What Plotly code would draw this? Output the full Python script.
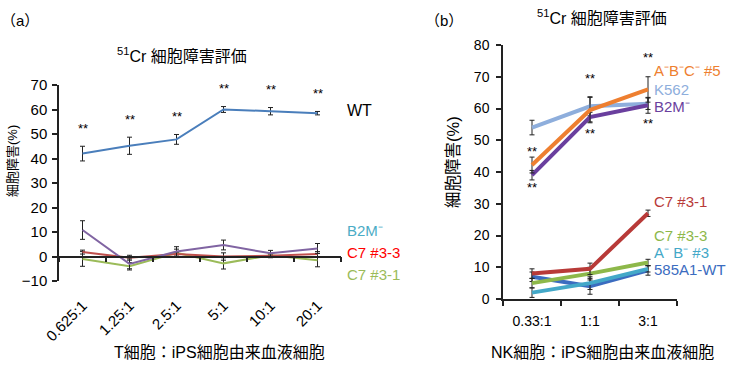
import plotly.graph_objects as go

W, H = 739, 368
FONT = "Liberation Sans, Noto Sans CJK JP, sans-serif"

# ---------- Panel (a) data ----------
cats_a = ["0.625:1", "1.25:1", "2.5:1", "5:1", "10:1", "20:1"]
wt_a = [42.0, 45.2, 47.8, 60.0, 59.3, 58.5]
wt_a_err = [3.0, 3.5, 2.0, 1.2, 1.5, 0.7]
b2m_a = [10.8, -3.0, 2.0, 4.7, 1.3, 3.3]
b2m_a_err = [3.8, 2.0, 2.0, 2.0, 1.2, 2.0]
c733_a = [1.8, -0.5, 1.0, 0.0, 0.3, 1.0]
c733_a_err = [0.8, 1.0, 0.8, 1.5, 0.8, 1.0]
c731_a = [-1.0, -4.0, 1.5, -2.8, 0.5, -1.5]
c731_a_err = [3.0, 1.5, 1.5, 2.3, 0.5, 2.7]
yticks_a = [-10, 0, 10, 20, 30, 40, 50, 60, 70]

# ---------- Panel (b) data ----------
cats_b = ["0.33:1", "1:1", "3:1"]
abc5_b = [42.2, 59.5, 66.0]
abc5_b_err = [2.5, 4.0, 4.0]
k562_b = [54.0, 60.7, 61.5]
k562_b_err = [2.3, 3.0, 1.8]
b2m_b = [39.0, 57.3, 61.0]
b2m_b_err = [1.5, 1.5, 2.5]
c731_b = [8.0, 9.5, 27.0]
c731_b_err = [1.5, 1.8, 1.0]
c733_b = [5.0, 8.0, 11.5]
c733_b_err = [1.5, 2.0, 1.0]
ab3_b = [2.0, 5.0, 9.5]
ab3_b_err = [1.5, 2.0, 1.0]
wt585_b = [7.0, 4.0, 9.0]
wt585_b_err = [1.5, 2.5, 1.5]
yticks_b = [0, 10, 20, 30, 40, 50, 60, 70, 80]

fig = go.Figure()

def px_x(p):
    return p / W

def px_y(p):
    return 1 - p / H

def add_series(x, y, err, color, width, xa, ya):
    fig.add_trace(go.Scatter(
        x=x, y=y, mode="lines", xaxis=xa, yaxis=ya,
        line=dict(color=color, width=width),
        error_y=dict(type="data", array=err, visible=True,
                     color="#222222", thickness=1, width=2.5),
        showlegend=False, hoverinfo="skip"))

# Panel (a) traces
add_series(cats_a, c731_a, c731_a_err, "#9BBB59", 2, "x", "y")
add_series(cats_a, c733_a, c733_a_err, "#C0504D", 2, "x", "y")
add_series(cats_a, b2m_a, b2m_a_err, "#8064A2", 2, "x", "y")
add_series(cats_a, wt_a, wt_a_err, "#4A7EBB", 2, "x", "y")
# invisible trace to carry the zero-line axis
fig.add_trace(go.Scatter(x=cats_a, y=wt_a, xaxis="x3", yaxis="y", mode="markers",
                         marker=dict(opacity=0), showlegend=False, hoverinfo="skip"))

# Panel (b) traces
add_series(cats_b, k562_b, k562_b_err, "#8EAEDC", 4, "x2", "y2")
add_series(cats_b, b2m_b, b2m_b_err, "#6A3F9E", 4, "x2", "y2")
add_series(cats_b, abc5_b, abc5_b_err, "#EE7F30", 4, "x2", "y2")
add_series(cats_b, wt585_b, wt585_b_err, "#3B6CC0", 4, "x2", "y2")
add_series(cats_b, ab3_b, ab3_b_err, "#43A8C8", 4, "x2", "y2")
add_series(cats_b, c733_b, c733_b_err, "#8DB84A", 4, "x2", "y2")
add_series(cats_b, c731_b, c731_b_err, "#B83A38", 4, "x2", "y2")

dom_xa = [px_x(59), px_x(341)]
dom_ya = [px_y(281), px_y(85)]
dom_xb = [px_x(503), px_x(677)]
dom_yb = [px_y(299), px_y(45)]
zero_pos = dom_ya[0] + (0 - (-10)) / 80 * (dom_ya[1] - dom_ya[0])

axis_font = dict(family=FONT, size=15, color="black")
common = dict(automargin=False, showgrid=False, zeroline=False)

fig.update_layout(
    template="none",
    width=W, height=H, margin=dict(l=0, r=0, t=0, b=0, pad=0),
    paper_bgcolor="white", plot_bgcolor="white",
    font=dict(family=FONT, color="black"),
    xaxis=dict(domain=dom_xa, type="category", range=[-0.5, 5.5],
               showline=False, ticks="", tickangle=-45, tickfont=axis_font,
               ticklabelstandoff=12, **common),
    xaxis3=dict(domain=dom_xa, type="category", range=[-0.5, 5.5], overlaying="x",
                anchor="free", position=zero_pos, showline=True, linecolor="#222",
                linewidth=1.5, ticks="outside", ticklen=5, tickwidth=1.5, tickcolor="#222",
                tickson="boundaries", showticklabels=False, **common),
    yaxis=dict(domain=dom_ya, range=[-10, 70], tickvals=yticks_a, showline=True,
               linecolor="#222", linewidth=1.5, ticks="outside", ticklen=5, tickwidth=1.5,
               tickcolor="#222", tickfont=axis_font, ticklabelstandoff=2, **common),
    xaxis2=dict(domain=dom_xb, anchor="y2", type="category", range=[-0.5, 2.5],
                showline=True, linecolor="#222", linewidth=1.5, ticks="outside", ticklen=5,
                tickwidth=1.5, tickcolor="#222", tickson="boundaries",
                tickfont=dict(family=FONT, size=14, color="black"),
                ticklabelstandoff=8, **common),
    yaxis2=dict(domain=dom_yb, anchor="x2", range=[0, 80], tickvals=yticks_b, showline=True,
                linecolor="#222", linewidth=1.5, ticks="outside", ticklen=5, tickwidth=1.5,
                tickcolor="#222", tickfont=dict(family=FONT, size=14, color="black"),
                ticklabelstandoff=4, **common),
)

ann = []

def paper_text(text, x, y, size, color="black", xanchor="center", angle=0):
    ann.append(dict(text=text, x=px_x(x), y=px_y(y), xref="paper", yref="paper",
                    xanchor=xanchor, yanchor="middle", showarrow=False, textangle=angle,
                    font=dict(family=FONT, size=size, color=color)))

# panel labels & titles
paper_text("（a）", 20, 20, 15)
paper_text("（b）", 444, 20, 15)
paper_text("<sup>51</sup>Cr 細胞障害評価", 182, 55, 16)
paper_text("<sup>51</sup>Cr 細胞障害評価", 602, 17, 16)
paper_text("T細胞：iPS細胞由来血液細胞", 219, 352, 16)
paper_text("NK細胞：iPS細胞由来血液細胞", 602, 352, 16)
paper_text("細胞障害(%)", 12, 161, 13, angle=-90)
paper_text("細胞障害(%)", 453, 162, 16.5, angle=-90)

# series labels (a)
paper_text("WT", 345, 110, 16, "black", "left")
paper_text("B2M⁻", 345, 230, 15, "#4BACC6", "left")
paper_text("C7 #3-3", 345, 252, 15, "#FF0000", "left")
paper_text("C7 #3-1", 345, 274, 15, "#9BBB59", "left")

# series labels (b)
paper_text("A⁻B⁻C⁻ #5", 652, 70, 15, "#EE7F30", "left")
paper_text("K562", 652, 89, 15, "#8EAEDC", "left")
paper_text("B2M⁻", 652, 106, 15, "#6A3F9E", "left")
paper_text("C7 #3-1", 652, 201, 15, "#B83A38", "left")
paper_text("C7 #3-3", 652, 235, 15, "#8DB84A", "left")
paper_text("A⁻ B⁻ #3", 652, 252, 15, "#43A8C8", "left")
paper_text("585A1-WT", 652, 269, 15, "#3B6CC0", "left")

# significance stars
star_font = dict(family=FONT, size=13, color="black")
for c, v, e in zip(cats_a, wt_a, wt_a_err):
    ann.append(dict(text="**", x=c, y=v + e, xref="x", yref="y", yshift=18,
                    showarrow=False, font=star_font))
up_shift = [6, 19, 19]
for c, v, e, s in zip(cats_b, abc5_b, abc5_b_err, up_shift):
    ann.append(dict(text="**", x=c, y=v + e, xref="x2", yref="y2", yshift=s,
                    showarrow=False, font=star_font))
down_shift = [-8, -12, -10]
for c, v, e, s in zip(cats_b, b2m_b, b2m_b_err, down_shift):
    ann.append(dict(text="**", x=c, y=v - e, xref="x2", yref="y2", yshift=s,
                    showarrow=False, font=star_font))

fig.update_layout(annotations=ann)
fig.write_html("out.html", config={"displayModeBar": False},
               post_script="document.body.style.margin='0';document.body.style.padding='0';")
